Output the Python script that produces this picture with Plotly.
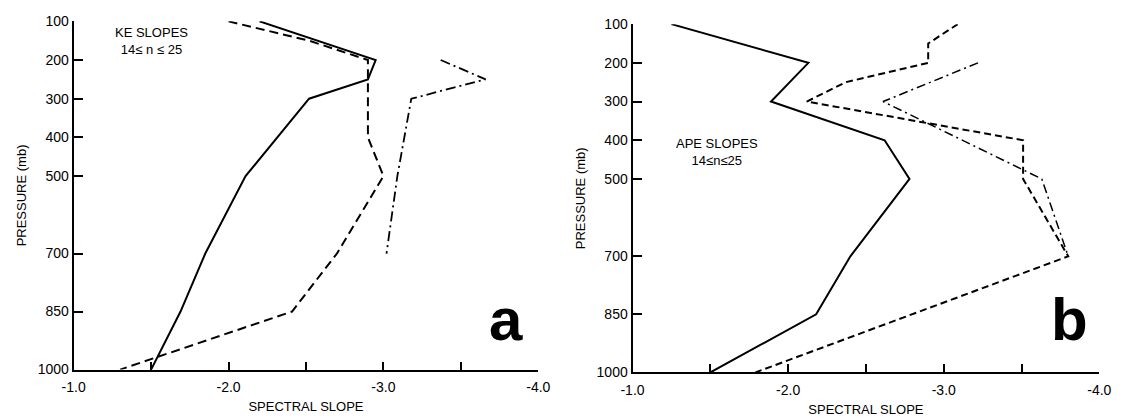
import plotly.graph_objects as go

# Pressure levels (mb)
pressure_levels = [100, 200, 300, 400, 500, 700, 850, 1000]

# (a) kinetic energy spectral slopes, 14 <= n <= 25
ke_solid_p = [100, 200, 250, 300, 500, 700, 850, 1000]
ke_solid_slope = [-2.20, -2.95, -2.90, -2.52, -2.11, -1.85, -1.69, -1.50]

ke_dash_p = [100, 150, 200, 400, 500, 700, 850, 1000]
ke_dash_slope = [-2.00, -2.52, -2.90, -2.90, -3.00, -2.70, -2.41, -1.30]

ke_dashdot_p = [200, 250, 300, 500, 700]
ke_dashdot_slope = [-3.37, -3.66, -3.18, -3.09, -3.02]

# (b) available potential energy spectral slopes, 14 <= n <= 25
ape_solid_p = [100, 200, 300, 400, 500, 700, 850, 1000]
ape_solid_slope = [-1.25, -2.13, -1.89, -2.62, -2.78, -2.40, -2.18, -1.50]

ape_dash_p = [100, 150, 200, 250, 300, 400, 500, 700, 1000]
ape_dash_slope = [-3.09, -2.90, -2.90, -2.37, -2.12, -3.51, -3.51, -3.80, -1.79]

ape_dashdot_p = [200, 300, 500, 700]
ape_dashdot_slope = [-3.22, -2.61, -3.63, -3.80]

slope_ticks = [-1.0, -1.5, -2.0, -2.5, -3.0, -3.5, -4.0]
slope_ticktext = ["-1.0", "", "-2.0", "", "-3.0", "", "-4.0"]

FONT = "Liberation Sans, Arial, sans-serif"
INK = "black"

fig = go.Figure()


def add_line(x, y, dash, xa, ya, width=2):
    fig.add_trace(go.Scatter(
        x=x, y=y, mode="lines", xaxis=xa, yaxis=ya,
        line=dict(color=INK, width=width, dash=dash),
        showlegend=False, hoverinfo="skip",
    ))


add_line(ke_solid_slope, ke_solid_p, "solid", "x", "y")
add_line(ke_dash_slope, ke_dash_p, "9px,5px", "x", "y")
add_line(ke_dashdot_slope, ke_dashdot_p, "10px,4px,2px,4px", "x", "y", 1.8)

add_line(ape_solid_slope, ape_solid_p, "solid", "x2", "y2")
add_line(ape_dash_slope, ape_dash_p, "7px,4px", "x2", "y2")
add_line(ape_dashdot_slope, ape_dashdot_p, "9px,4px,2px,4px", "x2", "y2", 1.5)

xaxis_common = dict(
    range=[-1.0, -4.0], tickmode="array", tickvals=slope_ticks,
    ticktext=slope_ticktext, ticks="inside", ticklen=8, tickwidth=1.5,
    tickcolor=INK, showline=True, linecolor=INK, linewidth=2,
    showgrid=False, zeroline=False, tickangle=0, ticklabelstandoff=4,
    tickfont=dict(family=FONT, size=14, color=INK),
    title=dict(text="SPECTRAL SLOPE", font=dict(family=FONT, size=13, color=INK),
               standoff=8),
)
yaxis_common = dict(
    range=[1000, 100], tickmode="array", tickvals=pressure_levels,
    ticks="inside", ticklen=9, tickwidth=1.5, tickcolor=INK,
    showline=True, linecolor=INK, linewidth=2, showgrid=False, zeroline=False,
    tickfont=dict(family=FONT, size=14, color=INK),
    title=dict(text="PRESSURE (mb)", font=dict(family=FONT, size=13, color=INK),
               standoff=8),
)

fig.update_layout(
    width=1125, height=420,
    margin=dict(l=0, r=0, t=0, b=0),
    paper_bgcolor="white", plot_bgcolor="white",
    xaxis=dict(domain=[0.056, 0.478], anchor="y", **xaxis_common),
    yaxis=dict(domain=[0.105, 0.967], anchor="x", **yaxis_common),
    xaxis2=dict(domain=[0.5636, 0.9876], anchor="y2", **xaxis_common),
    yaxis2=dict(domain=[0.098, 0.960], anchor="x2", **yaxis_common),
    annotations=[
        dict(text="KE SLOPES<br>14≤ n ≤ 25", x=-1.50, y=150, xref="x", yref="y",
             showarrow=False, align="center",
             font=dict(family=FONT, size=13, color=INK)),
        dict(text="APE SLOPES<br>14≤n≤25", x=-1.54, y=431, xref="x2", yref="y2",
             showarrow=False, align="center",
             font=dict(family=FONT, size=13, color=INK)),
        dict(text="<b>a</b>", x=-3.79, y=870, xref="x", yref="y",
             showarrow=False, font=dict(family=FONT, size=60, color=INK)),
        dict(text="<b>b</b>", x=-3.81, y=862, xref="x2", yref="y2",
             showarrow=False, font=dict(family=FONT, size=60, color=INK)),
    ],
)

fig.write_html("out.html")
